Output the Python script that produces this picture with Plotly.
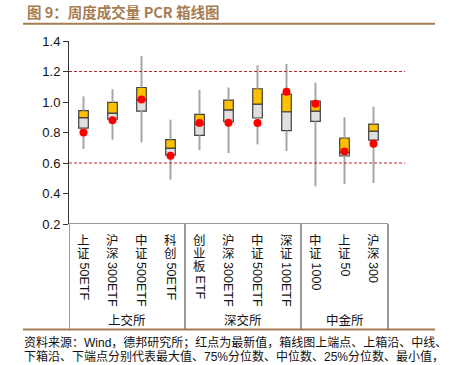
import plotly.graph_objects as go

# ---- data ----
cjk_parts = ["上证", "沪深", "中证", "科创", "创业板", "沪深", "中证", "深证", "中证", "上证", "沪深"]
latin_parts = ["50ETF", "300ETF", "500ETF", "50ETF", "ETF", "300ETF", "500ETF", "100ETF", "1000", "50", "300"]
groups = ["上交所", "深交所", "中金所"]
group_sizes = [4, 4, 3]

max_vals = [1.037, 1.084, 1.303, 0.884, 1.080, 1.095, 1.241, 1.250, 1.126, 0.899, 0.969]
q3_vals = [0.943, 0.997, 1.095, 0.753, 0.919, 1.012, 1.087, 1.052, 1.006, 0.764, 0.855]
med_vals = [0.897, 0.927, 1.012, 0.698, 0.855, 0.949, 0.986, 0.936, 0.940, 0.670, 0.809]
q1_vals = [0.829, 0.888, 0.940, 0.652, 0.781, 0.871, 0.895, 0.812, 0.873, 0.646, 0.750]
min_vals = [0.692, 0.753, 0.735, 0.491, 0.683, 0.665, 0.722, 0.679, 0.447, 0.462, 0.469]
latest_vals = [0.800, 0.881, 1.017, 0.648, 0.862, 0.864, 0.862, 1.067, 0.988, 0.676, 0.726]
ref_lines = [1.2, 0.6]
y_ticks = [0.2, 0.4, 0.6, 0.8, 1.0, 1.2, 1.4]

title = "图 9：周度成交量 PCR 箱线图"
source_lines = ["资料来源：Wind，德邦研究所；红点为最新值，箱线图上端点、上箱沿、中线、",
                "下箱沿、下端点分别代表最大值、75%分位数、中位数、25%分位数、最小值，"]

# ---- layout geometry ----
W, H = 449, 365
L, R, T, B = 69, 405, 41.2, 224.4
n = len(cjk_parts)
slot = (388 - L) / n
xmax = -0.5 + (R - L) / slot


def px(X):
    return (X - L) / (R - L)


def py(Y):
    return (B - Y) / (B - T)


FONT = "Liberation Sans, Arial, Noto Sans CJK SC, sans-serif"
CJK = "Noto Sans CJK SC, sans-serif"
BROWN = "#A67C52"

xs = list(range(n))
fig = go.Figure()

# whiskers (upper and lower segments)
wx, wy = [], []
for i in xs:
    wx += [i, i, None, i, i, None]
    wy += [max_vals[i], q3_vals[i], None, q1_vals[i], min_vals[i], None]
fig.add_trace(go.Scatter(x=wx, y=wy, mode="lines", line=dict(color="#A6A6A6", width=2),
                         hoverinfo="skip", showlegend=False))

# lower box (Q1 -> median)
fig.add_trace(go.Bar(x=xs, base=q1_vals, y=[m - q for m, q in zip(med_vals, q1_vals)],
                     width=0.33, marker=dict(color="#E0E0E0", line=dict(color="#404040", width=1.2)),
                     showlegend=False))
# upper box (median -> Q3)
fig.add_trace(go.Bar(x=xs, base=med_vals, y=[q - m for q, m in zip(q3_vals, med_vals)],
                     width=0.33, marker=dict(color="#FFC000", line=dict(color="#404040", width=1.2)),
                     showlegend=False))
# latest value
fig.add_trace(go.Scatter(x=xs, y=latest_vals, mode="markers",
                         marker=dict(color="#FF0000", size=8), showlegend=False))

shapes = []
for v in ref_lines:
    shapes.append(dict(type="line", xref="paper", yref="y", x0=0, x1=1, y0=v, y1=v,
                       line=dict(color="#C0282D", width=1, dash="3px,2px")))
# bottom category axis line
shapes.append(dict(type="line", xref="x", yref="y", x0=-0.5, x1=n - 0.5, y0=0.2, y1=0.2,
                   line=dict(color="#333333", width=1)))
# group separators
edges = [-0.5]
acc = -0.5
for s in group_sizes:
    acc += s
    edges.append(acc)
for e in edges:
    shapes.append(dict(type="line", xref="x", yref="paper", x0=e, x1=e, y0=0, y1=py(330),
                       line=dict(color="#333333", width=1)))
# title underline and footer line
for Y in (24, 330):
    shapes.append(dict(type="line", xref="paper", yref="paper", x0=px(23), x1=px(435),
                       y0=py(Y), y1=py(Y), line=dict(color=BROWN, width=2)))

ann = []
ann.append(dict(text="<b>" + title + "</b>", xref="paper", yref="paper", x=px(25), y=py(11.5),
                xanchor="left", yanchor="middle", showarrow=False,
                font=dict(size=14.5, color=BROWN, family=CJK)))
for k, line in enumerate(source_lines):
    ann.append(dict(text=line, xref="paper", yref="paper", x=px(22), y=py(343 + 14.5 * k),
                    xanchor="left", yanchor="middle", showarrow=False,
                    font=dict(size=12, color="#111111", family=FONT)))

# category labels: upright CJK characters (one block) then rotated latin text
base_fs = 10  # line spacing = 1.3 * base size = 13 px
for i in xs:
    chars = cjk_parts[i]
    txt = "<br>".join(f"<span style='font-size:12.5px'>{c}</span>" for c in chars)
    first_c = 239.5
    last_c = first_c + 13 * (len(chars) - 1)
    ann.append(dict(text=txt, xref="x", yref="paper", x=i, y=py((first_c + last_c) / 2),
                    xanchor="center", yanchor="middle", showarrow=False, borderpad=0,
                    font=dict(size=base_fs, color="#111111", family=CJK)))
    ytop = last_c + 9
    ann.append(dict(text=latin_parts[i], xref="x", yref="paper", x=i, y=py(ytop),
                    xanchor="center", yanchor="top", textangle=90, showarrow=False, borderpad=0,
                    font=dict(size=12.5, color="#111111", family=FONT)))

# group labels
start = -0.5
for g, s in zip(groups, group_sizes):
    ann.append(dict(text=g, xref="x", yref="paper", x=start + s / 2, y=py(320),
                    xanchor="center", yanchor="middle", showarrow=False,
                    font=dict(size=12.5, color="#111111", family=CJK)))
    start += s

fig.update_layout(
    width=W, height=H,
    margin=dict(l=L, r=W - R, t=T, b=H - B, pad=0),
    paper_bgcolor="white", plot_bgcolor="white",
    barmode="overlay",
    shapes=shapes, annotations=ann,
    font=dict(family=FONT, color="#111111"),
    xaxis=dict(range=[-0.5, xmax], visible=False, fixedrange=True),
    yaxis=dict(range=[0.2, 1.4], tickvals=y_ticks, ticktext=[f"{v:.1f}" for v in y_ticks],
               showgrid=False, zeroline=False, showline=True, linecolor="#333333", linewidth=1,
               ticks="outside", ticklen=5, tickcolor="#333333", fixedrange=True,
               tickfont=dict(size=13, color="#111111", family=FONT)),
)

fig.write_html("out.html", config={"displayModeBar": False, "staticPlot": True},
               post_script="document.body.style.margin='0';")
